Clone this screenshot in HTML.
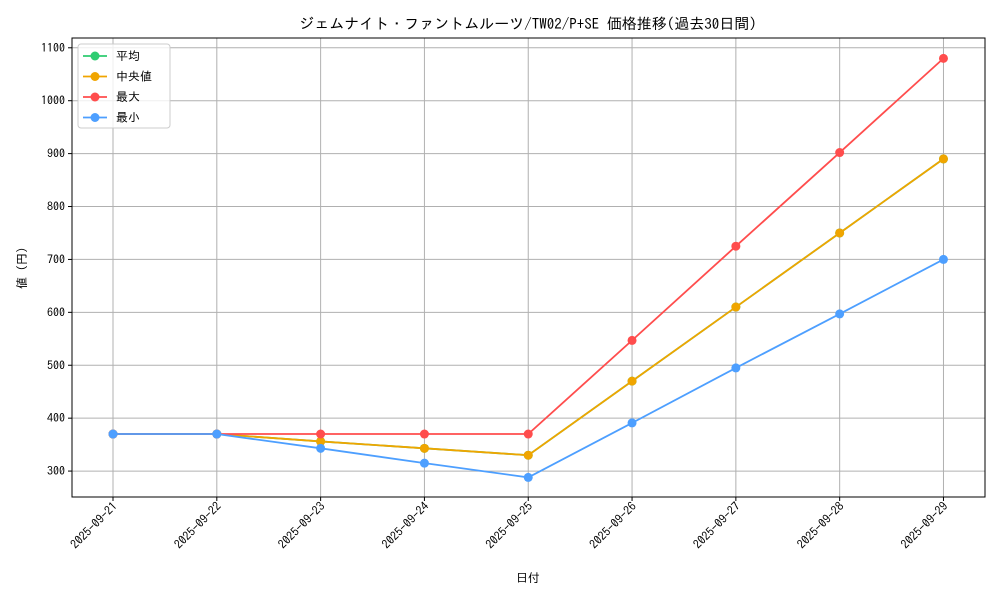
<!DOCTYPE html>
<html><head><meta charset="utf-8"><style>
body{margin:0;background:#fff;}
svg text{font-family:"IPAGothic","Liberation Mono","Noto Sans CJK JP",monospace;fill:#000;}
</style></head><body>
<svg id="chart" width="1000" height="600" viewBox="0 0 1000 600" xmlns="http://www.w3.org/2000/svg">
<rect width="1000" height="600" fill="#fff"/>
<text x="528" y="29" font-size="15" text-anchor="middle">ジェムナイト・ファントムルーツ/TW02/P+SE 価格推移(過去30日間)</text>
<g id="grid"></g>
<g id="axes"></g>
<g id="series"></g>
<text x="528" y="582" font-size="12" text-anchor="middle">日付</text>
<text transform="translate(26,268) rotate(-90)" font-size="12" text-anchor="middle">値 (円)</text>
<g id="legend"></g>
</svg>
<script>
const categories=["2025-09-21","2025-09-22","2025-09-23","2025-09-24","2025-09-25","2025-09-26","2025-09-27","2025-09-28","2025-09-29"];
const meanValues=[370,370,356,343,330,470,610,750,890];
const medianValues=[370,370,356,343,330,470,610,750,890];
const maxValues=[370,370,370,370,370,547,725,902,1080];
const minValues=[370,370,343,315,288,391,495,597,700];
const yTicks=[300,400,500,600,700,800,900,1000,1100];
const seriesNames=["平均","中央値","最大","最小"];
const NS="http://www.w3.org/2000/svg";
const L=72,R=985,T=38,B=497;
const yMin=251,yMax=1118.5,xMin=-0.395,xMax=8.4;
const xs=i=>L+(i-xMin)/(xMax-xMin)*(R-L);
const ys=v=>B-(v-yMin)/(yMax-yMin)*(B-T);
function mk(tag,attrs,parent){const e=document.createElementNS(NS,tag);for(const k in attrs)e.setAttribute(k,attrs[k]);parent.appendChild(e);return e;}
const grid=document.getElementById('grid'),axes=document.getElementById('axes'),ser=document.getElementById('series'),leg=document.getElementById('legend');
categories.forEach((c,i)=>{
  const x=xs(i);
  const g=mk('line',{x1:x,x2:x,y1:T,y2:B,stroke:'#b0b0b0','stroke-width':1},grid);
  
  
  mk('line',{x1:x,x2:x,y1:B,y2:B+4,stroke:'#000'},axes);
  const t=mk('text',{transform:`translate(${x+5},${B+10}) rotate(-45)`,'font-size':12,'text-anchor':'end'},axes);
  t.textContent=c;
  
  
});
yTicks.forEach(v=>{
  const y=ys(v);
  const g=mk('line',{x1:L,x2:R,y1:y,y2:y,stroke:'#b0b0b0','stroke-width':1},grid);
  
  
  mk('line',{x1:L-4,x2:L,y1:y,y2:y,stroke:'#000'},axes);
  const t=mk('text',{x:L-7,y:y+4,'font-size':12,'text-anchor':'end'},axes);
  t.textContent=v;
  
  
});
const frame=mk('rect',{x:L,y:T,width:R-L,height:B-T,fill:'none',stroke:'#000','stroke-width':1},axes);


const allSeries=[meanValues,medianValues,maxValues,minValues];
const colors=["#2ecc71","#f0a500","#ff4d4d","#4d9fff"];
const sNames=["mean","median","max","min"];
[0,1,2,3].forEach(s=>{
  const vals=allSeries[s];
  const g=mk('g',{},ser);
  
  
  const pl=mk('polyline',{points:vals.map((v,i)=>xs(i)+','+ys(v)).join(' '),fill:'none',stroke:colors[s],'stroke-width':1.8},g);
  
  
  vals.forEach((v,i)=>{
    const c=mk('circle',{cx:xs(i),cy:ys(v),r:4.5,fill:colors[s]},g);
    
    
  });
});
const box=mk('rect',{x:78,y:44,width:92,height:84,rx:3,fill:'#fff','fill-opacity':0.8,stroke:'#ccc'},leg);


seriesNames.forEach((n,i)=>{
  const y=56+i*20.5;
  const g=mk('g',{},leg);
  
  
  mk('line',{x1:83,x2:107,y1:y,y2:y,stroke:colors[i],'stroke-width':1.8},g);
  mk('circle',{cx:95,cy:y,r:4.5,fill:colors[i]},g);
  const t=mk('text',{x:116,y:y+4,'font-size':12},g);
  t.textContent=n;
});
</script>
</body></html>
